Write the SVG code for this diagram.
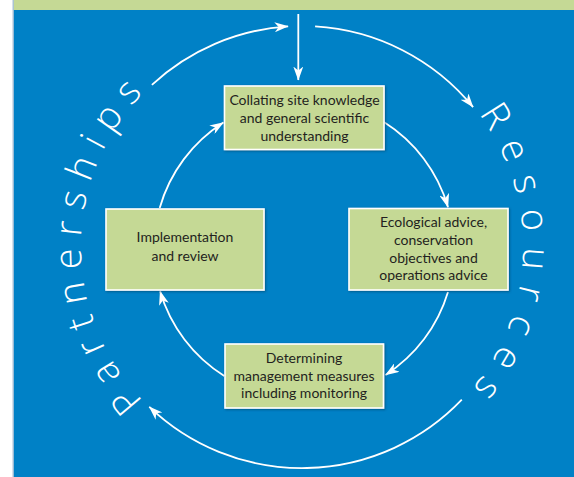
<svg xmlns="http://www.w3.org/2000/svg" width="574" height="477" viewBox="0 0 574 477">
<style>
.box{fill:#c5d995;stroke:#ffffff;stroke-width:1.6;filter:url(#sh)}
.lbl{font-family:"Lato","Liberation Sans",sans-serif;font-size:14px;fill:#231f20;text-anchor:middle}
.con{fill:none;stroke:#ffffff;stroke-width:1.8;marker-end:url(#ah)}
.arc{font-family:"Open Sans","Liberation Sans",sans-serif;font-size:38px;font-weight:300;fill:#ffffff}
</style>
<defs>
<marker id="ah" markerUnits="userSpaceOnUse" viewBox="0 0 14 10" refX="13.5" refY="5" markerWidth="14" markerHeight="10" orient="auto">
<path d="M0,0 L14,5 L0,10 L4,5 z" fill="#ffffff"/>
</marker>
<filter id="sh" x="-10%" y="-10%" width="125%" height="130%">
<feDropShadow dx="1" dy="1" stdDeviation="0.8" flood-color="#003a5c" flood-opacity="0.6"/>
</filter>
<path id="pLeft" d="M143.6,401.1 A221,221 0 0 1 226.4,39.3"/>
<path id="pRight" d="M478.3,113.7 A221,221 0 0 1 377.6,454.7"/>
</defs>
<rect x="0" y="0" width="574" height="477" fill="#ffffff"/>
<rect x="13" y="0" width="561" height="11" fill="#c5d995"/>
<rect x="13" y="10" width="561" height="467" fill="#0081c6"/>
<line x1="13.2" y1="0" x2="13.2" y2="477" stroke="#a9c2d8" stroke-width="1.4"/>

<g id="connectors">
<line class="con" x1="298.3" y1="14" x2="298.3" y2="80"/>
<path class="con" d="M151.9,84.8 A221,221 0 0 1 288.1,26.4"/>
<path class="con" d="M315.1,26.4 A221,221 0 0 1 473.1,107.1"/>
<path class="con" d="M461.8,399.7 A221,221 0 0 1 149.3,406.8"/>
<path class="con" d="M383.9,122.1 A150,150 0 0 1 448.0,207.2"/>
<path class="con" d="M448,292 A150,150 0 0 1 385.5,374.9"/>
<path class="con" d="M224.3,376 A150,150 0 0 1 160.1,291.3"/>
<path class="con" d="M159.7,207.9 A150,150 0 0 1 223.4,122.5"/>
</g>

<g id="partnerships">
<text class="arc" letter-spacing="11.2"><textPath href="#pLeft">Partnerships</textPath></text>
</g>
<g id="resources">
<text class="arc" letter-spacing="14.8"><textPath href="#pRight">Resources</textPath></text>
</g>

<g id="node-collating">
<rect class="box" x="224.5" y="86" width="159.5" height="63.5"/>
<text class="lbl" x="304.5" y="105">Collating site knowledge</text>
<text class="lbl" x="304.5" y="123">and general scientific</text>
<text class="lbl" x="304.5" y="141">understanding</text>
</g>
<g id="node-ecological">
<rect class="box" x="349" y="208.5" width="159" height="81.5"/>
<text class="lbl" x="433.5" y="226.5">Ecological advice,</text>
<text class="lbl" x="433.5" y="244.5">conservation</text>
<text class="lbl" x="433.5" y="262.5">objectives and</text>
<text class="lbl" x="433.5" y="280">operations advice</text>
</g>
<g id="node-determining">
<rect class="box" x="225" y="344" width="158.5" height="64"/>
<text class="lbl" x="304" y="363">Determining</text>
<text class="lbl" x="304" y="380.5">management measures</text>
<text class="lbl" x="304" y="398">including monitoring</text>
</g>
<g id="node-implementation">
<rect class="box" x="106" y="209" width="158" height="81"/>
<text class="lbl" x="185" y="242">Implementation</text>
<text class="lbl" x="185" y="260.5">and review</text>
</g>
</svg>
